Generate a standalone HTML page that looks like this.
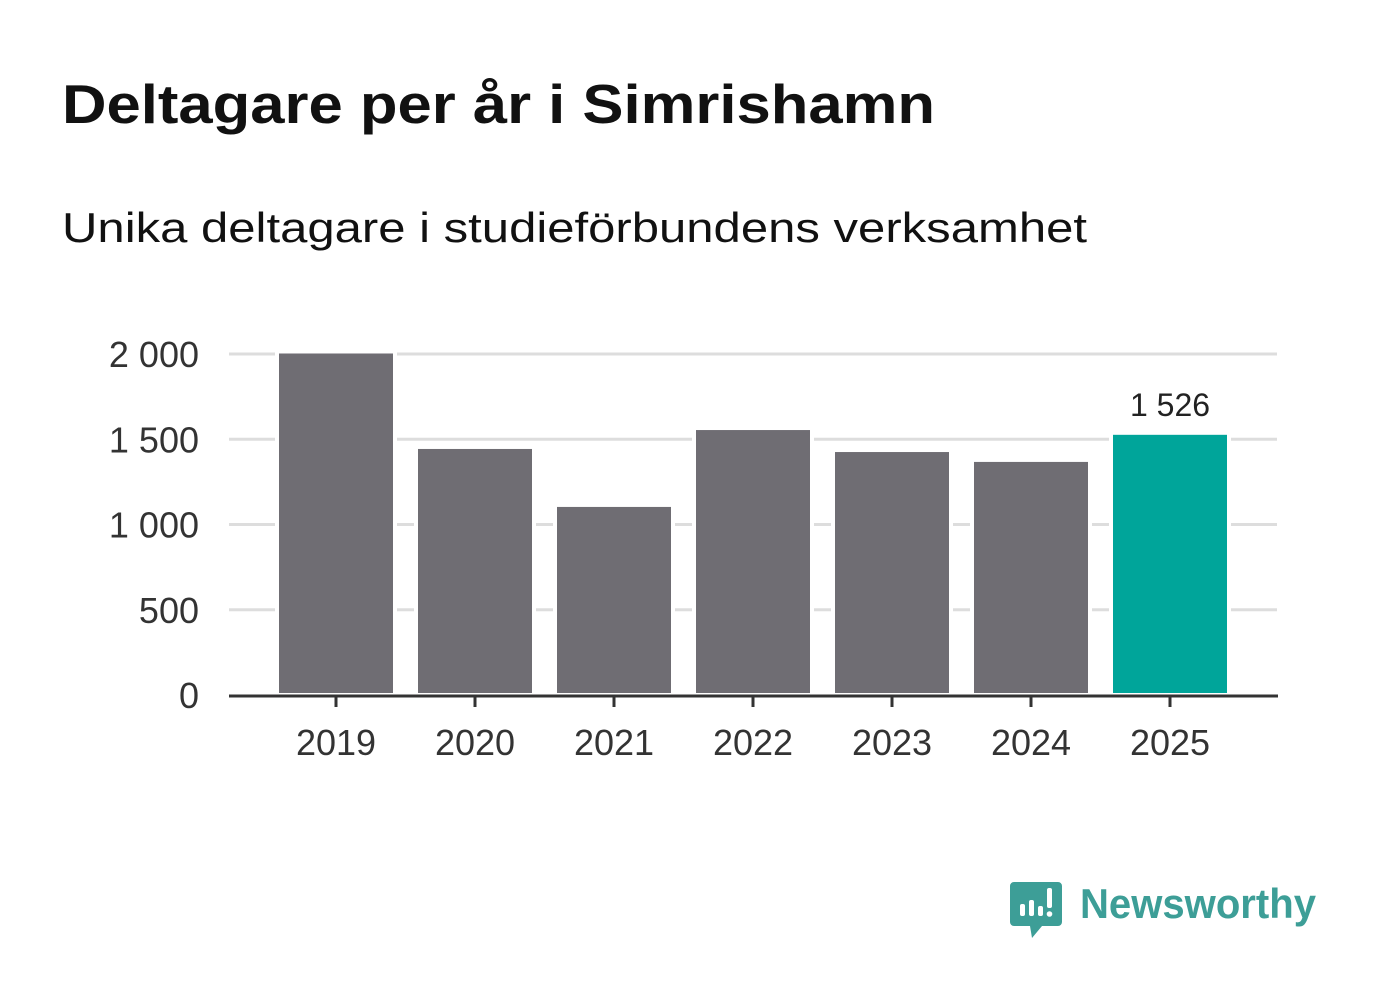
<!DOCTYPE html>
<html><head><meta charset="utf-8"><style>
body{margin:0;background:#fff;width:1382px;height:999px;overflow:hidden;font-family:"Liberation Sans",sans-serif}
</style></head><body>
<svg id="chart" width="1382" height="999" xmlns="http://www.w3.org/2000/svg">
<text x="62" y="123" font-size="55" font-weight="bold" fill="#111" textLength="873" lengthAdjust="spacingAndGlyphs">Deltagare per år i Simrishamn</text>
<text x="62" y="242" font-size="42" fill="#111" textLength="1025" lengthAdjust="spacingAndGlyphs">Unika deltagare i studieförbundens verksamhet</text>
<g id="grid"></g><g id="bars"></g><g id="axes"></g>
<g>
<path d="M1014 882 h44 a4 4 0 0 1 4 4 v36 a4 4 0 0 1 -4 4 h-16 l-10 12 l-2 -12 h-16 a4 4 0 0 1 -4 -4 v-36 a4 4 0 0 1 4 -4z" fill="#3d9e97"/>
<rect x="1020" y="904" width="5" height="12" rx="2" fill="#fff"/>
<rect x="1029" y="900" width="5" height="16" rx="2" fill="#fff"/>
<rect x="1038" y="906" width="5" height="10" rx="2" fill="#fff"/>
<rect x="1047" y="888" width="5" height="20" rx="2" fill="#fff"/>
<circle cx="1049.5" cy="914" r="2.8" fill="#fff"/>
<text x="1080" y="918" font-size="42" font-weight="bold" fill="#3d9e97" textLength="236" lengthAdjust="spacingAndGlyphs">Newsworthy</text>
</g>
</svg>
<script>
const categories=["2019","2020","2021","2022","2023","2024","2025"];
const values=[2003,1443,1103,1554,1425,1367,1526];
const yTicks=[0,500,1000,1500,2000];
const yTickLabels=["0","500","1 000","1 500","2 000"];
const highlightLabel="1 526";
const NS="http://www.w3.org/2000/svg";
const y0=695,yScale=341/2000;
const y=v=>y0-v*yScale;
const x=i=>336+139*i;
function mk(t,a,p){const e=document.createElementNS(NS,t);for(const k in a)e.setAttribute(k,a[k]);p.appendChild(e);return e;}
const grid=document.getElementById('grid'),bars=document.getElementById('bars'),axes=document.getElementById('axes');
yTicks.forEach((t,i)=>{
 if(t>0){const l=mk('line',{x1:229,x2:1277,y1:y(t),y2:y(t),stroke:'#dddddd','stroke-width':3},grid);
 
 }
 const tx=mk('text',{x:199,y:y(t)+13,'text-anchor':'end','font-size':36,fill:'#333'},axes);
 tx.textContent=yTickLabels[i];
 
 
});
categories.forEach((c,i)=>{
 const last=i===categories.length-1;
 const r=mk('rect',{x:x(i)-59,y:y(values[i])-2,width:118,height:y0-y(values[i])+2,fill:last?'#00a59a':'#6f6d73',stroke:'#fff','stroke-width':4},bars);
 
 
 const tk=mk('line',{x1:x(i),x2:x(i),y1:y0,y2:y0+12,stroke:'#333','stroke-width':3},axes);
 
 
 const tl=mk('text',{x:x(i),y:755,'text-anchor':'middle','font-size':36,fill:'#333'},axes);
 tl.textContent=c;
 
 
 if(last){const vl=mk('text',{x:x(i),y:y(values[i])-19,'text-anchor':'middle','font-size':32,fill:'#222'},axes);
 vl.textContent=highlightLabel;
 
 }
});
const ax=mk('line',{x1:229,x2:1278,y1:y0+1,y2:y0+1,stroke:'#333','stroke-width':3},axes);


</script>
</body></html>
